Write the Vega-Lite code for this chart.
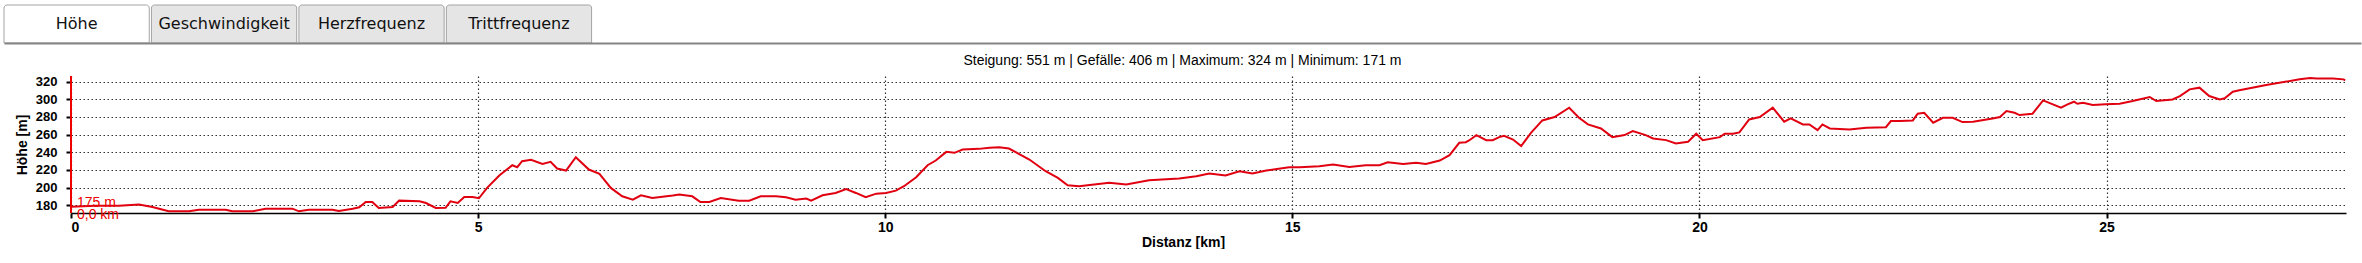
{
  "$schema": "https://vega.github.io/schema/vega-lite/v6.json",
  "background": "white",
  "padding": {"left": 3, "top": 4, "right": 0, "bottom": 0},
  "config": {"view": {"stroke": null}, "font": "Liberation Sans"},
  "columns": 1,
  "align": "none",
  "spacing": 10,
  "datasets": {
    "tabs": [
      {"tab": "Höhe"},
      {"tab": "Geschwindigkeit"},
      {"tab": "Herzfrequenz"},
      {"tab": "Trittfrequenz"}
    ],
    "cursor": [{"km": 0, "m": 175, "lm": "175 m", "lk": "0,0 km"}],
    "profile": [
      {"km": 0, "m": 178.5}, {"km": 0.3, "m": 179.5}, {"km": 0.59, "m": 179.5}, {"km": 0.835, "m": 180.8},
      {"km": 1.0, "m": 178}, {"km": 1.2, "m": 173.2}, {"km": 1.45, "m": 173.2}, {"km": 1.57, "m": 175},
      {"km": 1.9, "m": 175}, {"km": 1.98, "m": 173.2}, {"km": 2.23, "m": 173.2}, {"km": 2.39, "m": 176},
      {"km": 2.72, "m": 176.2}, {"km": 2.8, "m": 173.2}, {"km": 2.92, "m": 175}, {"km": 3.21, "m": 175},
      {"km": 3.29, "m": 173.5}, {"km": 3.46, "m": 176}, {"km": 3.54, "m": 177.7}, {"km": 3.62, "m": 183.8},
      {"km": 3.7, "m": 183.8}, {"km": 3.78, "m": 177}, {"km": 3.95, "m": 178.1}, {"km": 4.03, "m": 185.3},
      {"km": 4.28, "m": 184.5}, {"km": 4.36, "m": 182.6}, {"km": 4.48, "m": 177}, {"km": 4.6, "m": 177.2},
      {"km": 4.66, "m": 184.5}, {"km": 4.75, "m": 182.7}, {"km": 4.83, "m": 189.5}, {"km": 4.93, "m": 189.5},
      {"km": 5.01, "m": 188}, {"km": 5.11, "m": 199.7}, {"km": 5.26, "m": 213.8}, {"km": 5.42, "m": 225.4},
      {"km": 5.48, "m": 223.1}, {"km": 5.54, "m": 230}, {"km": 5.65, "m": 231.5}, {"km": 5.79, "m": 226.9},
      {"km": 5.89, "m": 229.2}, {"km": 5.97, "m": 221.6}, {"km": 6.08, "m": 219.4}, {"km": 6.2, "m": 234.5},
      {"km": 6.36, "m": 220.5}, {"km": 6.49, "m": 215.6}, {"km": 6.63, "m": 199.7}, {"km": 6.77, "m": 190.2},
      {"km": 6.9, "m": 186.4}, {"km": 7.0, "m": 191.4}, {"km": 7.14, "m": 188.3}, {"km": 7.39, "m": 191},
      {"km": 7.47, "m": 192.1}, {"km": 7.63, "m": 190.2}, {"km": 7.73, "m": 183.8}, {"km": 7.84, "m": 183.8},
      {"km": 7.98, "m": 188.3}, {"km": 8.2, "m": 185.3}, {"km": 8.33, "m": 185.3}, {"km": 8.47, "m": 190.2},
      {"km": 8.66, "m": 190.2}, {"km": 8.78, "m": 189.1}, {"km": 8.9, "m": 186.4}, {"km": 9.03, "m": 187.6},
      {"km": 9.09, "m": 185.3}, {"km": 9.23, "m": 191.4}, {"km": 9.39, "m": 194}, {"km": 9.52, "m": 198.5},
      {"km": 9.64, "m": 194}, {"km": 9.76, "m": 189.1}, {"km": 9.89, "m": 193.2}, {"km": 10.01, "m": 194},
      {"km": 10.13, "m": 196.6}, {"km": 10.23, "m": 201.6}, {"km": 10.38, "m": 211.8}, {"km": 10.52, "m": 225.4},
      {"km": 10.62, "m": 230.7}, {"km": 10.75, "m": 240.5}, {"km": 10.85, "m": 239.4}, {"km": 10.95, "m": 243.2},
      {"km": 11.15, "m": 243.9}, {"km": 11.28, "m": 245.1}, {"km": 11.4, "m": 245.8}, {"km": 11.52, "m": 244.3},
      {"km": 11.77, "m": 231.8}, {"km": 11.97, "m": 218.6}, {"km": 12.12, "m": 211}, {"km": 12.24, "m": 202.7},
      {"km": 12.38, "m": 201.6}, {"km": 12.75, "m": 205.4}, {"km": 12.96, "m": 203.5}, {"km": 13.24, "m": 208.4},
      {"km": 13.61, "m": 210.3}, {"km": 13.82, "m": 212.9}, {"km": 13.98, "m": 216}, {"km": 14.18, "m": 213.7},
      {"km": 14.35, "m": 218.6}, {"km": 14.51, "m": 216}, {"km": 14.68, "m": 219.4}, {"km": 14.96, "m": 223.1},
      {"km": 15.09, "m": 223.1}, {"km": 15.33, "m": 224.3}, {"km": 15.5, "m": 226.2}, {"km": 15.7, "m": 223.5},
      {"km": 15.9, "m": 225.4}, {"km": 16.07, "m": 225.4}, {"km": 16.17, "m": 228.8}, {"km": 16.36, "m": 226.9},
      {"km": 16.52, "m": 228.1}, {"km": 16.64, "m": 226.9}, {"km": 16.81, "m": 230.7}, {"km": 16.93, "m": 236.8},
      {"km": 17.05, "m": 250.8}, {"km": 17.13, "m": 251.5}, {"km": 17.17, "m": 253.4}, {"km": 17.26, "m": 259.5},
      {"km": 17.38, "m": 253.8}, {"km": 17.46, "m": 253.8}, {"km": 17.54, "m": 257.2}, {"km": 17.6, "m": 258.7},
      {"km": 17.71, "m": 254.5}, {"km": 17.81, "m": 247}, {"km": 17.93, "m": 262.1}, {"km": 18.07, "m": 276.1},
      {"km": 18.22, "m": 279.9}, {"km": 18.4, "m": 290.5}, {"km": 18.52, "m": 279.1}, {"km": 18.63, "m": 271.6},
      {"km": 18.79, "m": 267}, {"km": 18.93, "m": 257.2}, {"km": 19.08, "m": 259.5}, {"km": 19.18, "m": 264},
      {"km": 19.34, "m": 259.5}, {"km": 19.43, "m": 255.7}, {"km": 19.59, "m": 253.8}, {"km": 19.71, "m": 250},
      {"km": 19.86, "m": 251.9}, {"km": 19.96, "m": 261}, {"km": 20.04, "m": 253.8}, {"km": 20.25, "m": 257.2},
      {"km": 20.31, "m": 261}, {"km": 20.41, "m": 261}, {"km": 20.49, "m": 262.5}, {"km": 20.61, "m": 277.2},
      {"km": 20.74, "m": 279.9}, {"km": 20.9, "m": 290.5}, {"km": 21.04, "m": 274.6}, {"km": 21.12, "m": 278.4},
      {"km": 21.27, "m": 271.6}, {"km": 21.35, "m": 271.6}, {"km": 21.45, "m": 265.1}, {"km": 21.51, "m": 271.6},
      {"km": 21.6, "m": 267}, {"km": 21.84, "m": 265.9}, {"km": 22.05, "m": 267.8}, {"km": 22.29, "m": 268.5},
      {"km": 22.35, "m": 275.4}, {"km": 22.46, "m": 275.4}, {"km": 22.62, "m": 276.1}, {"km": 22.68, "m": 283.7},
      {"km": 22.76, "m": 284.8}, {"km": 22.87, "m": 273.5}, {"km": 22.99, "m": 279.1}, {"km": 23.11, "m": 279.1},
      {"km": 23.23, "m": 274.2}, {"km": 23.36, "m": 274.6}, {"km": 23.6, "m": 278.4}, {"km": 23.69, "m": 279.9},
      {"km": 23.77, "m": 286.7}, {"km": 23.87, "m": 284.8}, {"km": 23.93, "m": 282.2}, {"km": 24.09, "m": 283.7},
      {"km": 24.22, "m": 298.8}, {"km": 24.34, "m": 294.3}, {"km": 24.44, "m": 290.5}, {"km": 24.52, "m": 294.3},
      {"km": 24.6, "m": 297.3}, {"km": 24.64, "m": 295}, {"km": 24.71, "m": 296.2}, {"km": 24.83, "m": 293.5},
      {"km": 24.99, "m": 294.3}, {"km": 25.16, "m": 295}, {"km": 25.32, "m": 298}, {"km": 25.53, "m": 302.6},
      {"km": 25.61, "m": 298}, {"km": 25.81, "m": 299.9}, {"km": 25.9, "m": 303.7}, {"km": 26.02, "m": 311.3},
      {"km": 26.14, "m": 313.2}, {"km": 26.26, "m": 303.7}, {"km": 26.39, "m": 299.9}, {"km": 26.45, "m": 301.1},
      {"km": 26.55, "m": 308.6}, {"km": 26.63, "m": 310.2}, {"km": 26.96, "m": 316.2}, {"km": 27.37, "m": 322.6},
      {"km": 27.5, "m": 324}, {"km": 27.58, "m": 323.5}, {"km": 27.78, "m": 323.5}, {"km": 27.91, "m": 322.6},
      {"km": 27.93, "m": 321.5}
    ]
  },
  "concat": [
    {
      "width": 2290,
      "height": 38,
      "data": {"name": "tabs"},
      "encoding": {
        "x": {
          "field": "tab", "type": "nominal", "sort": null,
          "scale": {"domain": ["Höhe", "Geschwindigkeit", "Herzfrequenz", "Trittfrequenz", "s1", "s2", "s3", "s4", "s5", "s6", "s7", "s8", "s9", "s10", "s11", "s12"], "range": [-67, 2290], "paddingInner": 0.015, "paddingOuter": 0},
          "axis": {"title": null, "labels": false, "ticks": false, "grid": false, "domain": true, "domainColor": "#858585", "domainWidth": 2}
        }
      },
      "layer": [
        {
          "mark": {"type": "rect", "stroke": "#a3a3a3", "strokeWidth": 1, "cornerRadiusTopLeft": 3, "cornerRadiusTopRight": 3},
          "encoding": {
            "fill": {"condition": {"test": "datum.tab === 'Höhe'", "value": "#ffffff"}, "value": "#e5e5e5"}
          }
        },
        {
          "mark": {"type": "text", "font": "DejaVu Sans", "fontSize": 16, "color": "#111111"},
          "encoding": {"text": {"field": "tab"}}
        }
      ]
    },
    {
      "width": 2275,
      "height": 137,
      "title": {"text": "Steigung: 551 m | Gefälle: 406 m | Maximum: 324 m | Minimum: 171 m", "fontSize": 14, "fontWeight": "normal", "font": "Liberation Sans", "color": "#000000", "frame": "group", "anchor": "middle", "dx": -26, "offset": 6},
      "layer": [
        {
          "data": {"name": "profile"},
          "mark": {"type": "line", "color": "#e00010", "strokeWidth": 2, "interpolate": "linear"},
          "encoding": {
            "x": {
              "field": "km", "type": "quantitative",
              "scale": {"domain": [0, 27.94], "nice": false, "zero": false},
              "axis": {"title": "Distanz [km]", "values": [0, 5, 10, 15, 20, 25], "tickCount": 30, "format": "d", "labelOverlap": false,
                "titleFont": "Liberation Sans", "titleFontSize": 14, "titleFontWeight": "bold", "titleColor": "#000000", "titlePadding": 1, "titleX": 1112,
                "labelFont": "Liberation Sans", "labelFontSize": 14, "labelFontWeight": "bold", "labelColor": "#000000", "labelPadding": 2,
                "domainColor": "#000000", "domainWidth": 1.5, "tickColor": "#000000", "tickWidth": 2, "tickSize": 5,
                "grid": true, "gridColor": "#333333", "gridDash": [1.5, 2.5], "gridWidth": 1.2}
            },
            "y": {
              "field": "m", "type": "quantitative",
              "scale": {"domain": [171.3, 326.4], "nice": false, "zero": false},
              "axis": {"title": "Höhe [m]", "values": [180, 200, 220, 240, 260, 280, 300, 320], "tickCount": 20, "labelOverlap": false,
                "titleFont": "Liberation Sans", "titleFontSize": 14, "titleFontWeight": "bold", "titleColor": "#000000", "titlePadding": 6,
                "labelFont": "Liberation Sans", "labelFontSize": 13, "labelFontWeight": "bold", "labelColor": "#000000", "labelPadding": 9,
                "domain": false, "tickColor": "#000000", "tickWidth": 2, "tickSize": 5,
                "grid": true, "gridColor": "#333333", "gridDash": [1.5, 2.5], "gridWidth": 1.2}
            }
          }
        },
        {
          "data": {"name": "cursor"},
          "mark": {"type": "rule", "color": "#ee0000", "strokeWidth": 2},
          "encoding": {"x": {"field": "km", "type": "quantitative"}}
        },
        {
          "data": {"name": "cursor"},
          "mark": {"type": "text", "color": "#ee0000", "font": "Liberation Sans", "fontSize": 14, "align": "left", "baseline": "middle", "dx": 6, "dy": -7},
          "encoding": {"x": {"field": "km", "type": "quantitative"}, "y": {"field": "m", "type": "quantitative"}, "text": {"field": "lm"}}
        },
        {
          "data": {"name": "cursor"},
          "mark": {"type": "text", "color": "#ee0000", "font": "Liberation Sans", "fontSize": 14, "align": "left", "baseline": "middle", "dx": 6, "dy": 5},
          "encoding": {"x": {"field": "km", "type": "quantitative"}, "y": {"field": "m", "type": "quantitative"}, "text": {"field": "lk"}}
        }
      ]
    }
  ]
}
